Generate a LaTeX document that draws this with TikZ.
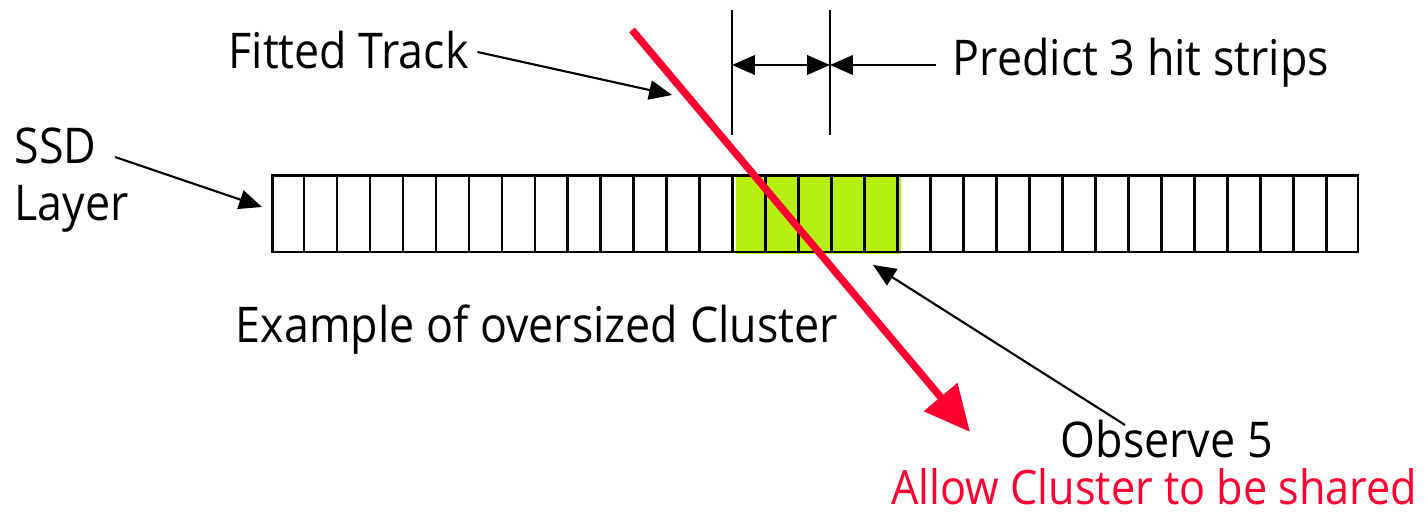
\documentclass[tikz,border=0pt]{standalone}
\usepackage{fontspec}
\setmainfont{Open Sans}[FakeStretch=0.91]
\usetikzlibrary{arrows.meta,calc}
\definecolor{trackred}{RGB}{255,0,48}
\definecolor{hitgreen}{RGB}{182,240,18}
\tikzset{
  lbl/.style={inner sep=0pt, font=\fontsize{14pt}{16pt}\selectfont},
  tip/.tip={Triangle[length=6.5pt,width=5.5pt]},
  pointer/.style={line width=0.6pt, -tip},
  bar/.style={line width=0.75pt},
  track/.style={draw=trackred, line width=2.1pt, -{Triangle[length=13pt,width=12pt]}},
}
\begin{document}
\begin{tikzpicture}[x=0.01cm,y=-0.01cm]
\useasboundingbox (0,0) rectangle (1428,516);

% silicon strip layer: 33 strips, 5 of them form the cluster
\node[anchor=north west, fill=hitgreen, minimum width=1.65cm, minimum height=0.79cm, inner sep=0pt] (cluster) at (735,174) {};
\node[anchor=north west, draw, bar, minimum width=10.85cm, minimum height=0.765cm, inner sep=0pt] (strip) at (271,174) {};
\foreach \i in {1,...,32}
  \draw[bar] ($(strip.north west)!\i/33!(strip.north east)$) -- ($(strip.south west)!\i/33!(strip.south east)$);

% labels
\node[lbl, anchor=west] (fit) at (228,50) {Fitted Track};
\node[lbl, anchor=west] (pred) at (952,63) {Predict 3 hit strips};
\node[lbl, anchor=west, align=left] (ssd) at (14,180) {SSD\\Layer};
\node[lbl, anchor=west] (ex) at (235,330) {Example of oversized Cluster};
\node[lbl, anchor=west] (obs) at (1060,439) {Observe 5};
\node[lbl, anchor=east, text=trackred, font=\fontsize{13.5pt}{15pt}\selectfont] (allow) at (1418,487) {Allow Cluster to be shared};

% predicted window
\coordinate (wl) at (732,10);
\coordinate (wr) at (830,10);
\draw[line width=0.7pt] (wl) -- ++(0,125);
\draw[line width=0.7pt] (wr) -- ++(0,125);
\coordinate (wlm) at (732,65);
\coordinate (wrm) at (830,65);
\draw[line width=0.7pt, tip-tip] (wlm) -- (wrm);
\draw[pointer, line width=0.7pt] (pred.west) ++(-16,2) coordinate (pst) -- (wrm);

% pointers
\coordinate (fittip) at (672,95);
\draw[pointer] (fit.east) ++(8,2) coordinate (fst) -- (fittip);
\coordinate (ssdtip) at (262,207);
\draw[pointer] (115,157) coordinate (sst) -- (ssdtip);
\coordinate (clutip) at (873,265);
\draw[pointer] (1125,425) coordinate (ost) -- (clutip);

% fitted track
\coordinate (ta) at (632,30);
\coordinate (tb) at (970,432);
\draw[track] (ta) -- (tb);
\end{tikzpicture}
\end{document}
